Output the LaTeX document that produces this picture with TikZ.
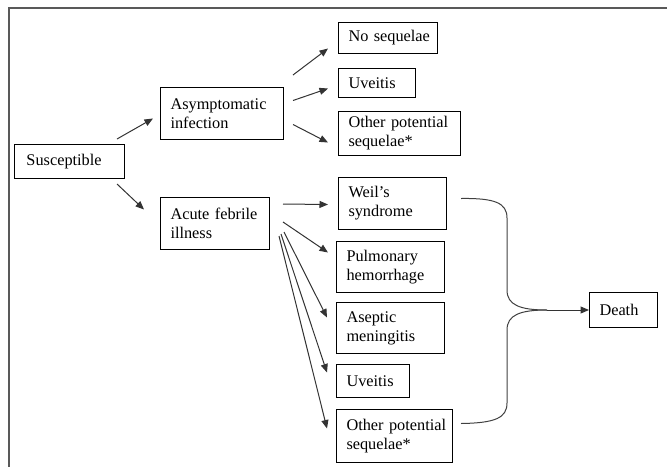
\documentclass[tikz,border=0pt]{standalone}
\usepackage{fontspec}
\setmainfont{Liberation Serif}
\usetikzlibrary{arrows.meta,calc}
\tikzset{
  bx/.style={draw=black, line width=1pt, anchor=north west, align=left,
    inner xsep=10pt, inner ysep=2pt, font=\fontsize{16.3}{19}\selectfont},
  conn/.style={draw=black!80, line width=1pt, -{Triangle[length=8.5pt,width=7pt]}},
  curv/.style={draw=black!75, line width=1pt},
  frame/.style={draw=black!65, line width=1.4pt}
}
\begin{document}
\begin{tikzpicture}[x=1pt,y=-1pt]
\useasboundingbox (0,0) rectangle (667,467);
\draw[frame] (667,8) -- (9,8) -- (9,467);

\node[bx, inner xsep=12pt, text width=86pt, minimum height=34pt] (sus) at (14,144) {\mbox{Susceptible}};
\node[bx, text width=103pt, minimum height=52pt] (asy) at (160,87) {\mbox{Asymptomatic}\\\mbox{infection}};
\node[bx, text width=89pt, minimum height=52pt] (acu) at (160,197) {\mbox{Acute febrile}\\\mbox{illness}};
\node[bx, text width=79pt, minimum height=31pt] (nos) at (338,22) {\mbox{No sequelae}};
\node[bx, text width=57pt, minimum height=29pt] (uva) at (338,68) {\mbox{Uveitis}};
\node[bx, text width=102pt, minimum height=44pt] (otha) at (338,111) {\mbox{Other potential}\\\mbox{sequelae*}};
\node[bx, text width=88pt, minimum height=52pt] (weil) at (338,177) {\mbox{Weil’s}\\\mbox{syndrome}};
\node[bx, text width=88pt, minimum height=51pt] (pul) at (336,241) {\mbox{Pulmonary}\\\mbox{hemorrhage}};
\node[bx, text width=88pt, minimum height=51pt] (ase) at (336,302) {\mbox{Aseptic}\\\mbox{meningitis}};
\node[bx, text width=53pt, minimum height=33pt] (uvb) at (336,364) {\mbox{Uveitis}};
\node[bx, text width=96pt, minimum height=53pt] (othb) at (336,409) {\mbox{Other potential}\\\mbox{sequelae*}};
\node[bx, text width=48pt, minimum height=35pt] (death) at (589,292) {\mbox{Death}};

% Susceptible branches
\draw[conn] ($(sus.north east)+(-8,-5)$) -- ($(asy.west)+(-7,5)$);
\draw[conn] ($(sus.south east)+(-8,5)$) -- ($(acu.west)+(-16,-14)$);

% Asymptomatic branches
\draw[conn] ($(asy.north east)+(9,-12)$) -- ($(nos.west)+(-10,10.5)$);
\draw[conn] ($(asy.east)+(9,-13)$) -- ($(uva.west)+(-10,5.5)$);
\draw[conn] ($(asy.east)+(9,11)$) -- ($(otha.west)+(-10,9)$);

% Acute febrile illness branches
\draw[conn] ($(acu.north east)+(13,7)$) -- ($(weil.west)+(-10,1)$);
\draw[conn] ($(acu.north east)+(13,25)$) -- ($(pul.west)+(-8,-14.5)$);
\draw[conn] ($(acu.north east)+(14,35)$) -- ($(ase.west)+(-9,-10.5)$);
\draw[conn] ($(acu.north east)+(11,37)$) -- ($(uvb.west)+(-9,-8.5)$);
\draw[conn] ($(acu.north east)+(9,39)$) -- ($(othb.west)+(-9,-7.5)$);

% Paths to death
\coordinate (m) at (547,310);
\draw[curv] ($(weil.east)+(14,-5)$) .. controls (495,198) and (507,203) .. (507,218)
  -- (507,290) .. controls (507,305) and (520,310) .. (m);
\draw[curv] ($(othb.east)+(8,-12.5)$) .. controls (495,423) and (507,418) .. (507,403)
  -- (507,330) .. controls (507,315) and (520,310) .. (m);
\draw[conn] (m) -- (death.west);
\end{tikzpicture}
\end{document}
